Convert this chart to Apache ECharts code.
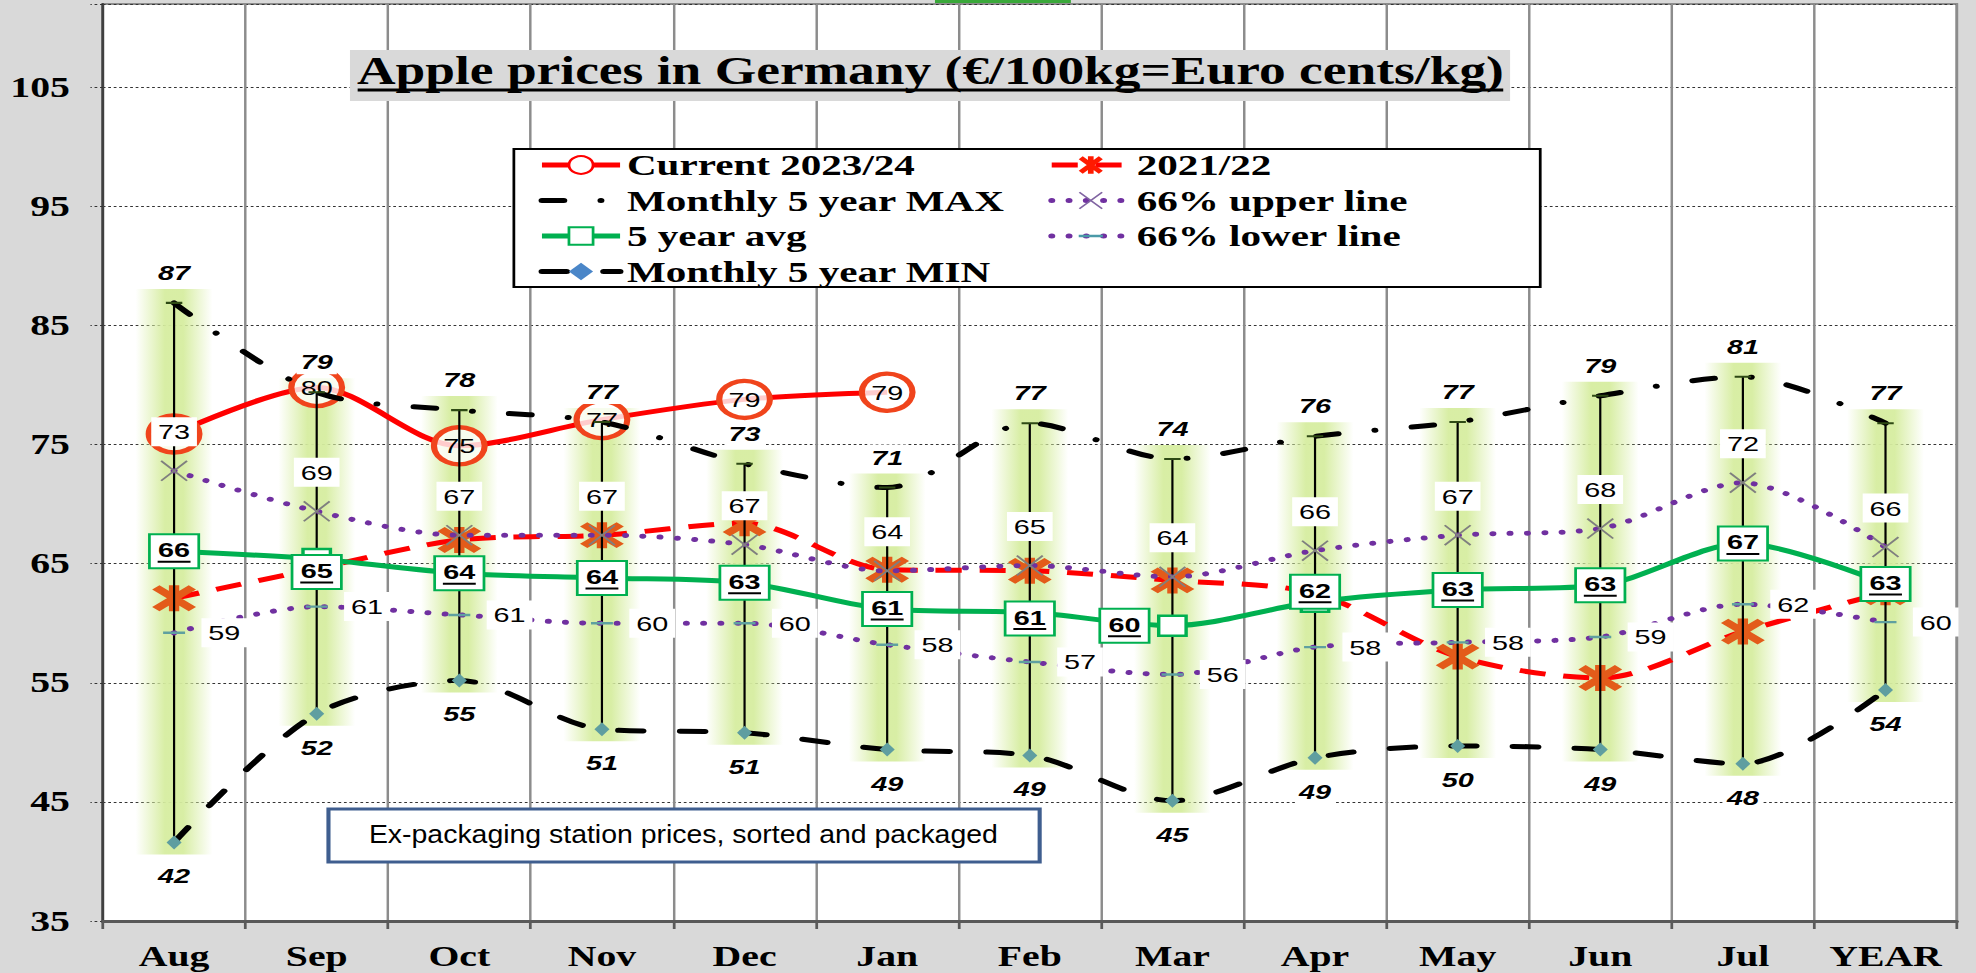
<!DOCTYPE html>
<html><head><meta charset="utf-8">
<script src="https://cdn.jsdelivr.net/npm/echarts@6/dist/echarts.min.js"></script>
<style>
html,body{margin:0;padding:0;background:#d9d9d9;overflow:hidden;width:1976px;height:973px;}
#c{width:1442px;height:973px;transform:scaleX(1.37032);transform-origin:0 0;}
</style></head><body><div id="c"></div>
<script>
// ---------- data ----------
const categories = ['Aug','Sep','Oct','Nov','Dec','Jan','Feb','Mar','Apr','May','Jun','Jul','YEAR'];
const current2324 = [75.9, 79.8, 74.9, 77.1, 78.8, 79.4, null, null, null, null, null, null, null];
const season2122 = [62.1, 64.6, 67.0, 67.4, 68.4, 64.5, 64.4, 63.6, 62.5, 57.2, 55.4, 59.3, 62.6];
const max5 = [86.9, 79.4, 77.9, 76.9, 73.4, 71.4, 76.8, 73.8, 75.7, 76.9, 79.1, 80.7, 76.8];
const min5 = [41.6, 52.4, 55.2, 51.1, 50.8, 49.4, 48.9, 45.1, 48.7, 49.7, 49.4, 48.2, 54.4];
const avg5 = [66.05, 65.4, 64.2, 63.8, 63.4, 61.2, 60.9, 59.8, 61.8, 62.8, 63.2, 66.7, 63.3];
const upper66 = [72.8, 69.4, 67.4, 67.4, 66.6, 64.4, 64.85, 63.9, 66.1, 67.4, 67.95, 71.8, 66.4];
const lower66 = [59.2, 61.4, 60.7, 60.0, 60.0, 58.2, 56.75, 55.7, 58.0, 58.4, 58.85, 61.6, 60.1];
const yMin = 35, yMax = 112, yStep = 10;
const seriesNames = ['Current 2023/24','Monthly 5 year MAX','5 year avg','Monthly 5 year MIN','2021/22','66% upper line','66% lower line'];
const titleText = 'Apple prices in Germany (€/100kg=Euro cents/kg)';
const noteText = 'Ex-packaging station prices, sorted and packaged';

// ---------- styling ----------
const SERIF = '"Liberation Serif","Times New Roman",serif';
const SANS = '"Liberation Sans",Arial,sans-serif';
const rnd = p => String(Math.round(p.value));
const ASTERISK = 'path://M8 1.5L12 1.5L12 18.5L8 18.5Z M15.66 1.52L18.48 4.34L4.34 18.48L1.52 15.66Z M18.48 15.66L15.66 18.48L1.52 4.34L4.34 1.52Z';
const XMARK = 'path://M16.65 2.51L17.49 3.35L3.35 17.49L2.51 16.65Z M17.49 16.65L16.65 17.49L2.51 3.35L3.35 2.51Z';
const DASHMARK = 'path://M0 0Z M0 8.5L20 8.5L20 11.5L0 11.5Z M20 20Z';
const avgLabelOffsets = {1:[0,13], 6:[0,6], 7:[-35,0], 8:[0,-10]};
const PURPLE = '#7030a0';
const glowColor = (a) => 'rgba(214,237,160,' + a + ')';

const chart = echarts.init(document.getElementById('c'), null, {renderer:'svg'});

const numLabel = (extra) => Object.assign({
  show:true, formatter:rnd, fontFamily:SANS, fontSize:21, color:'#000'
}, extra);

const legendCommon = {
  orient:'vertical', top:150, itemGap:5.5, itemWidth:57, itemHeight:22, padding:0, z:10,
  selectedMode:false, lineStyle:{width:5},
  textStyle:{fontFamily:SERIF, fontWeight:'bold', fontSize:30, lineHeight:29, color:'#000'}
};

const option = {
  animation:false,
  backgroundColor:'#d9d9d9',
  grid:{left:75, right:14, top:4, bottom:52, show:true, backgroundColor:'#fff', borderColor:'#8c8c8c', borderWidth:2},
  xAxis:{
    type:'category', data:categories, boundaryGap:true,
    axisLine:{lineStyle:{color:'#595959', width:3}},
    axisTick:{show:true, interval:0, length:8, lineStyle:{color:'#595959', width:2}},
    axisLabel:{interval:0, margin:21, fontFamily:SERIF, fontWeight:'bold', fontSize:29, color:'#000'},
    splitLine:{show:true, interval:0, lineStyle:{color:'#8c8c8c', width:1.8}}
  },
  yAxis:{
    type:'value', min:yMin, max:yMax, interval:yStep,
    axisLine:{show:true, lineStyle:{color:'#404040', width:2}},
    axisTick:{show:true, length:9, lineStyle:{color:'#333', width:1, type:[2,2]}},
    axisLabel:{margin:24, fontFamily:SERIF, fontWeight:'bold', fontSize:29, color:'#000',
      formatter:v => ((v - yMin) % yStep === 0 ? String(v) : '')},
    splitLine:{show:true, lineStyle:{color:'#333', width:1, type:[2,2]}}
  },
  legend:[
    Object.assign({}, legendCommon, {left:393, data:[
      {name:seriesNames[0], itemStyle:{color:'#fff', borderColor:'#ff0000'}},
      {name:seriesNames[1], itemStyle:{opacity:0}},
      seriesNames[2],
      {name:seriesNames[3], itemStyle:{color:'#4a86c8'}}]}),
    Object.assign({}, legendCommon, {left:765, data:[
      {name:seriesNames[4], itemStyle:{color:'#ff1a00'}},
      {name:seriesNames[5], itemStyle:{color:'#8064a2'}},
      {name:seriesNames[6], itemStyle:{color:'#4a9aa8'}}]})
  ],
  graphic:[
    {type:'rect', z:100, shape:{x:682.3, y:0, width:99.2, height:3}, style:{fill:'#3aa83a'}},
    {type:'rect', z:100, shape:{x:255.4, y:50, width:846.6, height:51}, style:{fill:'#d9d9d9'}},
    {type:'text', z:101, style:{text:titleText, x:679, y:71, font:'bold 39px ' + SERIF, fill:'#000',
      textAlign:'center', textVerticalAlign:'middle', align:'center', verticalAlign:'middle'}},
    {type:'line', z:101, shape:{x1:261, y1:90, x2:1097, y2:90}, style:{stroke:'#000', lineWidth:3}},
    {type:'rect', z:9, shape:{x:375, y:149, width:749, height:138}, style:{fill:'#fff', stroke:'#000', lineWidth:2}},
    {type:'rect', z:100, shape:{x:239.7, y:809, width:519, height:53}, style:{fill:'#fff', stroke:'#3f5e8f', lineWidth:3}},
    {type:'text', z:101, x:498.7, y:835, scaleX:0.83, style:{text:noteText, x:0, y:0, font:'25px ' + SANS, fill:'#000',
      textAlign:'center', textVerticalAlign:'middle', align:'center', verticalAlign:'middle'}}
  ],
  series:[
    { // glow bands behind high-low lines
      type:'custom', z:1, silent:true,
      encode:{x:0, y:[1,2]},
      data:categories.map((c,i)=>[i, min5[i], max5[i]]),
      renderItem:(params, api)=>{
        const top = api.coord([api.value(0), api.value(2)]);
        const bot = api.coord([api.value(0), api.value(1)]);
        const w = 56;
        return {type:'rect', shape:{x:top[0]-w/2, y:top[1]-14, width:w, height:bot[1]-top[1]+26},
          style:{fill:new echarts.graphic.LinearGradient(0,0,1,0,[
            {offset:0, color:glowColor(0)}, {offset:0.2, color:glowColor(0.5)},
            {offset:0.38, color:glowColor(0.95)}, {offset:0.62, color:glowColor(0.95)},
            {offset:0.8, color:glowColor(0.5)}, {offset:1, color:glowColor(0)}])}};
      }
    },
    { // high-low lines
      type:'custom', z:4, silent:true,
      encode:{x:0, y:[1,2]},
      data:categories.map((c,i)=>[i, min5[i], max5[i]]),
      renderItem:(params, api)=>{
        const top = api.coord([api.value(0), api.value(2)]);
        const bot = api.coord([api.value(0), api.value(1)]);
        return {type:'line', shape:{x1:top[0], y1:top[1], x2:bot[0], y2:bot[1]}, style:{stroke:'#000', lineWidth:1.6}};
      }
    },
    {
      name:seriesNames[4], type:'line', z:2, smooth:0.3, data:season2122,
      symbol:ASTERISK, symbolSize:[32,26],
      lineStyle:{color:'#ff0000', width:5, type:[19,13]},
      itemStyle:{color:'#e35b1a'}
    },
    {
      name:seriesNames[0], type:'line', z:3, smooth:0.3, connectNulls:false,
      data:current2324.map((v,i)=> i===0 ? {value:v, label:{show:false}} : v),
      symbol:'circle', symbolSize:37,
      lineStyle:{color:'#ff0000', width:5},
      itemStyle:{color:'rgba(255,255,255,0.8)', borderColor:'#f0441c', borderWidth:4.5},
      label:numLabel({position:'inside'})
    },
    {
      name:seriesNames[1], type:'line', z:5, smooth:0.3, data:max5,
      symbol:DASHMARK, symbolSize:[12,14],
      lineStyle:{color:'#000', width:5, type:[16,27,0.1,27], cap:'round'},
      itemStyle:{color:'#2e4a14'},
      label:numLabel({position:'top', distance:11, fontWeight:'bold', fontStyle:'italic', backgroundColor:'#fff', padding:[2,3]})
    },
    {
      name:seriesNames[3], type:'line', z:5, smooth:0.3, data:min5,
      symbol:'diamond', symbolSize:[11,14],
      lineStyle:{color:'#000', width:5, type:[18,27], cap:'round'},
      itemStyle:{color:'#5f9ea0'},
      label:numLabel({position:'bottom', distance:14, fontWeight:'bold', fontStyle:'italic', backgroundColor:'#fff', padding:[2,3]})
    },
    {
      name:seriesNames[6], type:'line', z:5, smooth:0.3, data:lower66,
      symbol:DASHMARK, symbolSize:[16,16],
      lineStyle:{color:PURPLE, width:5, type:[0.1,12.5], cap:'round'},
      itemStyle:{color:'#5fa0a0'},
      label:numLabel({position:'right', distance:12, backgroundColor:'#fff', padding:[4,5]})
    },
    {
      name:seriesNames[5], type:'line', z:6, smooth:0.3, data:upper66,
      symbol:XMARK, symbolSize:[20,21],
      lineStyle:{color:PURPLE, width:5, type:[0.1,12.5], cap:'round'},
      itemStyle:{color:'#7f7f7f'},
      label:numLabel({position:'top', distance:14, backgroundColor:'#fff', padding:[4,5]})
    },
    {
      name:seriesNames[2], type:'line', z:7, smooth:0.3,
      data:avg5.map((v,i)=> avgLabelOffsets[i] ? {value:v, label:{offset:avgLabelOffsets[i]}} : v),
      symbol:'rect', symbolSize:20,
      lineStyle:{color:'#00b050', width:5},
      itemStyle:{color:'#fff', borderColor:'#00b050', borderWidth:2.5},
      label:{show:true, position:'inside', backgroundColor:'#fff', borderColor:'#00b050', borderWidth:2, padding:[4,5,4,5],
        formatter:p => '{v|' + Math.round(p.value) + '}\n{u|}',
        rich:{
          v:{fontFamily:SANS, fontSize:21, fontWeight:'bold', color:'#000', lineHeight:21},
          u:{width:24, height:2, lineHeight:3, backgroundColor:'#000'}
        }}
    }
  ]
};
chart.setOption(option);
</script></body></html>
